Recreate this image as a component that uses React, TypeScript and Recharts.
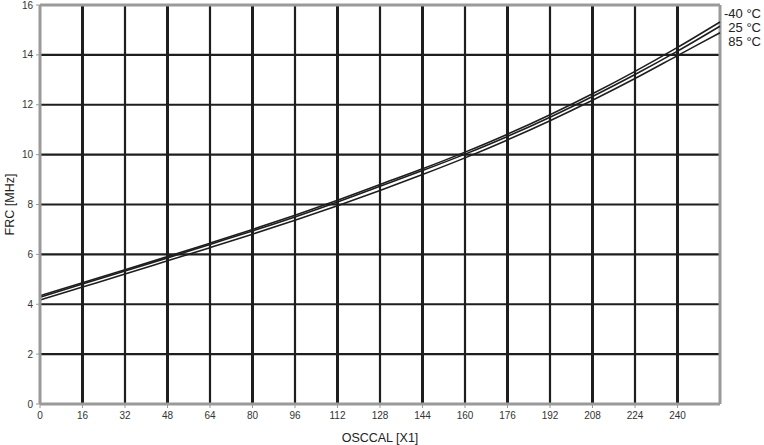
import React from 'react';
import { LineChart, Line, XAxis, YAxis, ReferenceLine } from 'recharts';

const osccal = [0, 16, 32, 48, 64, 80, 96, 112, 128, 144, 160, 176, 192, 208, 224, 240, 256];
const frcMinus40 = [4.34, 4.86, 5.38, 5.91, 6.45, 7.0, 7.57, 8.17, 8.8, 9.43, 10.1, 10.82, 11.6, 12.44, 13.34, 14.3, 15.32];
const frc25 = [4.28, 4.81, 5.33, 5.86, 6.4, 6.94, 7.5, 8.1, 8.73, 9.36, 10.02, 10.73, 11.5, 12.33, 13.21, 14.15, 15.15];
const frc85 = [4.17, 4.69, 5.21, 5.74, 6.27, 6.81, 7.37, 7.95, 8.56, 9.2, 9.87, 10.59, 11.36, 12.18, 13.05, 13.97, 14.89];

const seriesNames = ['-40 °C', '25 °C', '85 °C'];
const xTicks = [0, 16, 32, 48, 64, 80, 96, 112, 128, 144, 160, 176, 192, 208, 224, 240];
const yTicks = [0, 2, 4, 6, 8, 10, 12, 14, 16];
const xGrid = [16, 32, 48, 64, 80, 96, 112, 128, 144, 160, 176, 192, 208, 224, 240];
const yGrid = [2, 4, 6, 8, 10, 12, 14];

const FONT = '"Liberation Sans", Arial, sans-serif';
const AXIS_GRAY = '#9a9a9a';
const INK = '#1e1e1e';

export default function App() {
  const data = osccal.map((x, i) => ({
    x,
    m40: frcMinus40[i],
    t25: frc25[i],
    t85: frc85[i],
  }));

  const tickStyle = { fontSize: 10, fill: '#333', fontFamily: FONT };

  return (
    <div style={{ position: 'absolute', left: 0, top: 0, width: 764, height: 445, background: '#fff' }}>
      <LineChart width={764} height={445} data={data} margin={{ top: 5, right: 44, bottom: 0, left: 0 }}>
        {xGrid.map(v => (
          <ReferenceLine key={'vx' + v} x={v} stroke={INK} strokeWidth={(v / 16) % 2 === 1 ? 3 : 2.2} />
        ))}
        {yGrid.map(v => (
          <ReferenceLine key={'hy' + v} y={v} stroke={INK} strokeWidth={2.2} />
        ))}
        <ReferenceLine y={16} stroke={AXIS_GRAY} strokeWidth={3} />
        <ReferenceLine x={256} stroke={AXIS_GRAY} strokeWidth={3} />
        <XAxis
          dataKey="x"
          type="number"
          domain={[0, 256]}
          ticks={xTicks}
          interval={0}
          height={41}
          tickSize={4}
          tickMargin={4}
          axisLine={{ stroke: AXIS_GRAY, strokeWidth: 3 }}
          tickLine={{ stroke: AXIS_GRAY, strokeWidth: 1 }}
          tick={tickStyle}
          label={{
            value: 'OSCCAL [X1]',
            position: 'insideBottom',
            offset: 3,
            style: { fontSize: 12.5, fill: '#222', fontFamily: FONT },
          }}
        />
        <YAxis
          type="number"
          domain={[0, 16]}
          ticks={yTicks}
          interval={0}
          width={40}
          tickSize={4}
          tickMargin={3}
          axisLine={{ stroke: AXIS_GRAY, strokeWidth: 3 }}
          tickLine={{ stroke: AXIS_GRAY, strokeWidth: 1 }}
          tick={tickStyle}
          label={{
            value: 'FRC [MHz]',
            angle: -90,
            position: 'insideLeft',
            offset: 10,
            style: { fontSize: 12.5, fill: '#222', fontFamily: FONT, textAnchor: 'middle' },
          }}
        />
        <Line type="monotone" dataKey="m40" name={seriesNames[0]} stroke={INK} strokeWidth={1.6} dot={false} isAnimationActive={false} />
        <Line type="monotone" dataKey="t25" name={seriesNames[1]} stroke={INK} strokeWidth={1.6} dot={false} isAnimationActive={false} />
        <Line type="monotone" dataKey="t85" name={seriesNames[2]} stroke={INK} strokeWidth={1.6} dot={false} isAnimationActive={false} />
      </LineChart>
      <div
        style={{
          position: 'absolute',
          right: 3,
          top: 7,
          textAlign: 'right',
          fontFamily: FONT,
          fontSize: 13,
          lineHeight: '14px',
          color: '#222',
        }}
      >
        {seriesNames.map(n => (
          <div key={n}>{n}</div>
        ))}
      </div>
    </div>
  );
}
